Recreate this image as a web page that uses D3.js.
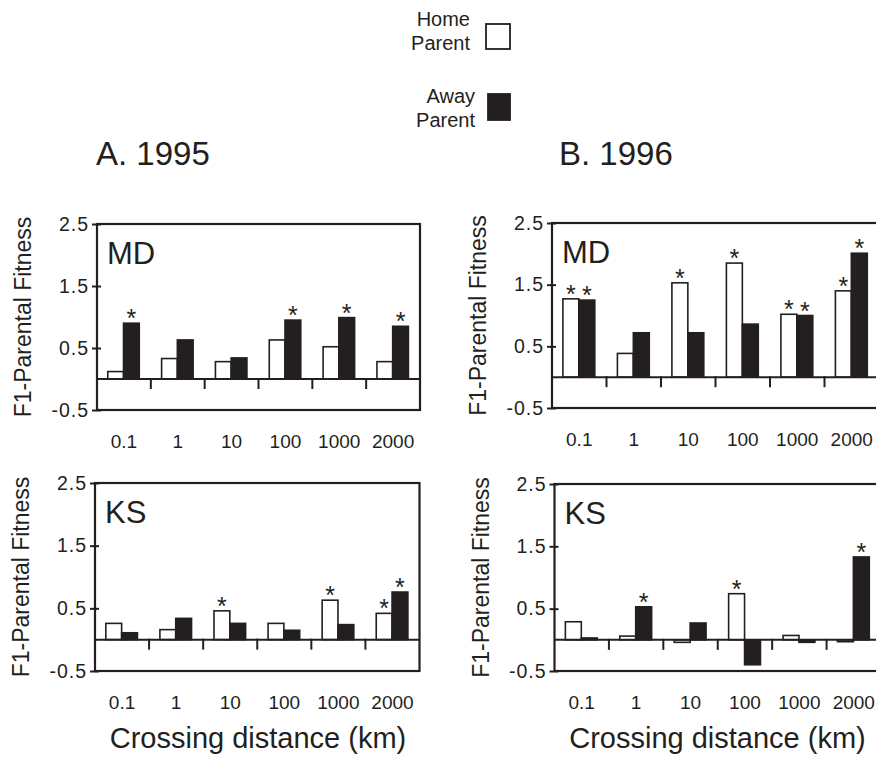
<!DOCTYPE html>
<html>
<head>
<meta charset="utf-8">
<script src="https://cdn.jsdelivr.net/npm/d3@7"></script>
<style>
  html, body { margin: 0; padding: 0; background: #fff; }
  svg { display: block; font-family: "Liberation Sans", Arial, Helvetica, sans-serif; }
  svg text { font-family: "Liberation Sans", Arial, Helvetica, sans-serif; }
</style>
</head>
<body>
<svg id="chart" width="876" height="757"></svg>
<script>
// ---- data ----
const categories = ["0.1", "1", "10", "100", "1000", "2000"];
const series = ["Home Parent", "Away Parent"];
const yTickValues = [2.5, 1.5, 0.5, -0.5];
const yTickLabels = ["2.5", "1.5", "0.5", "-0.5"];

const home1995MD = [0.12, 0.33, 0.28, 0.63, 0.52, 0.28];
const away1995MD = [0.90, 0.63, 0.34, 0.95, 0.99, 0.85];
const home1996MD = [1.27, 0.385, 1.53, 1.85, 1.02, 1.40];
const away1996MD = [1.25, 0.72, 0.72, 0.86, 1.00, 2.01];
const home1995KS = [0.26, 0.16, 0.46, 0.26, 0.63, 0.42];
const away1995KS = [0.11, 0.34, 0.26, 0.15, 0.24, 0.76];
const home1996KS = [0.29, 0.06, -0.04, 0.74, 0.07, -0.03];
const away1996KS = [0.03, 0.53, 0.27, -0.40, -0.04, 1.33];

// significance markers (1 = asterisk)
const starHome1995MD = [0, 0, 0, 0, 0, 0];
const starAway1995MD = [1, 0, 0, 1, 1, 1];
const starHome1996MD = [1, 0, 1, 1, 1, 1];
const starAway1996MD = [1, 0, 0, 0, 1, 1];
const starHome1995KS = [0, 0, 1, 0, 1, 1];
const starAway1995KS = [0, 0, 0, 0, 0, 1];
const starHome1996KS = [0, 0, 0, 1, 0, 0];
const starAway1996KS = [0, 1, 0, 0, 0, 1];

const panelTitles = ["A. 1995", "B. 1996"];
const yLabel = "F1-Parental Fitness";
const xLabel = "Crossing distance (km)";

// ---- layout ----
const INK = "#231f20";
const svg = d3.select("#chart");

const panels = [
  { site: "MD", home: home1995MD, away: away1995MD, sh: starHome1995MD, sa: starAway1995MD, x0: 97,  x1: 420, y0: 224, y1: 410, xlab: false },
  { site: "MD", home: home1996MD, away: away1996MD, sh: starHome1996MD, sa: starAway1996MD, x0: 552, x1: 879, y0: 223, y1: 408, xlab: false },
  { site: "KS", home: home1995KS, away: away1995KS, sh: starHome1995KS, sa: starAway1995KS, x0: 95,  x1: 419.5, y0: 483, y1: 671, xlab: true },
  { site: "KS", home: home1996KS, away: away1996KS, sh: starHome1996KS, sa: starAway1996KS, x0: 554.5, x1: 881, y0: 484, y1: 671, xlab: true }
];

panels.forEach(p => {
  const g = svg.append("g");
  const x = d3.scaleBand().domain(categories).range([p.x0, p.x1]).paddingInner(0).paddingOuter(0);
  const bw = x.bandwidth();
  const xs = d3.scaleBand().domain(series).range([bw * 0.2, bw * 0.785]).padding(0);
  const y = d3.scaleLinear().domain([-0.5, 2.5]).range([p.y1, p.y0]);

  const rows = [];
  categories.forEach((c, i) => {
    rows.push({ c, s: series[0], v: p.home[i], star: p.sh[i] });
    rows.push({ c, s: series[1], v: p.away[i], star: p.sa[i] });
  });

  // bars
  g.selectAll("rect.bar").data(rows).join("rect")
    .attr("class", "bar")
    .attr("x", d => x(d.c) + xs(d.s))
    .attr("width", xs.bandwidth())
    .attr("y", d => Math.min(y(d.v), y(0)))
    .attr("height", d => Math.abs(y(d.v) - y(0)))
    .attr("fill", d => d.s === series[0] ? "#fff" : INK)
    .attr("stroke", INK)
    .attr("stroke-width", 1.6);

  // asterisks
  g.selectAll("text.star").data(rows.filter(d => d.star)).join("text")
    .attr("class", "star")
    .attr("x", d => x(d.c) + xs(d.s) + xs.bandwidth() / 2)
    .attr("y", d => y(Math.max(d.v, 0)) + 4)
    .attr("text-anchor", "middle")
    .attr("font-size", 25)
    .attr("fill", INK)
    .text("*");

  // zero baseline
  g.append("line")
    .attr("x1", p.x0).attr("x2", p.x1)
    .attr("y1", y(0)).attr("y2", y(0))
    .attr("stroke", INK).attr("stroke-width", 2);

  // group separators
  g.selectAll("line.sep").data(categories.slice(1)).join("line")
    .attr("class", "sep")
    .attr("x1", d => x(d)).attr("x2", d => x(d))
    .attr("y1", y(0) - 1).attr("y2", y(0) + 10)
    .attr("stroke", INK).attr("stroke-width", 2);

  // frame
  g.append("rect")
    .attr("x", p.x0).attr("y", p.y0)
    .attr("width", p.x1 - p.x0).attr("height", p.y1 - p.y0)
    .attr("fill", "none").attr("stroke", INK).attr("stroke-width", 2.2);

  // y axis
  const ya = g.append("g")
    .attr("transform", `translate(${p.x0},0)`)
    .call(d3.axisLeft(y).tickValues(yTickValues)
      .tickFormat((d, i) => yTickLabels[i]).tickSize(5).tickPadding(3));
  ya.select(".domain").remove();
  ya.attr("font-family", null).attr("font-size", null);
  ya.selectAll(".tick line").attr("stroke", INK).attr("stroke-width", 2).attr("x2", -5).attr("x1", 4);
  ya.selectAll(".tick text").attr("font-size", 19.5).attr("fill", INK).attr("letter-spacing", 1);

  // x axis labels
  const xa = g.append("g")
    .attr("transform", `translate(0,${p.y1})`)
    .call(d3.axisBottom(x).tickSize(0).tickPadding(25));
  xa.select(".domain").remove();
  xa.attr("font-family", null).attr("font-size", null);
  xa.selectAll(".tick text").attr("font-size", 19).attr("fill", INK);

  // site label
  g.append("text")
    .attr("x", p.x0 + 10).attr("y", p.y0 + 40)
    .attr("font-size", 31).attr("fill", INK)
    .text(p.site);

  // y label
  g.append("text")
    .attr("transform", `translate(${p.x0 - 66},${(p.y0 + p.y1) / 2}) rotate(-90)`)
    .attr("text-anchor", "middle")
    .attr("font-size", 23).attr("fill", INK)
    .text(yLabel);

  if (p.xlab) {
    g.append("text")
      .attr("x", p.x0 + 163).attr("y", 748)
      .attr("text-anchor", "middle")
      .attr("font-size", 29).attr("fill", INK)
      .text(xLabel);
  }
});

// panel titles
svg.append("text").attr("x", 96).attr("y", 165).attr("font-size", 33).attr("fill", INK).text(panelTitles[0]);
svg.append("text").attr("x", 559).attr("y", 165).attr("font-size", 33).attr("fill", INK).text(panelTitles[1]);

// legend
const legend = svg.append("g");
const legendItems = [
  { lines: ["Home", "Parent"], tx: 470, ty: 26, fill: "#fff", bx: 486, by: 24, bw: 24, bh: 25 },
  { lines: ["Away", "Parent"], tx: 475, ty: 103, fill: INK, bx: 488, by: 94, bw: 22, bh: 26 }
];
legendItems.forEach(it => {
  const t = legend.append("text")
    .attr("text-anchor", "end").attr("font-size", 20).attr("fill", INK);
  it.lines.forEach((ln, i) => {
    t.append("tspan").attr("x", it.tx).attr("y", it.ty + i * 24).text(ln);
  });
  legend.append("rect")
    .attr("x", it.bx).attr("y", it.by).attr("width", it.bw).attr("height", it.bh)
    .attr("fill", it.fill).attr("stroke", INK).attr("stroke-width", 1.8);
});
</script>
</body>
</html>
